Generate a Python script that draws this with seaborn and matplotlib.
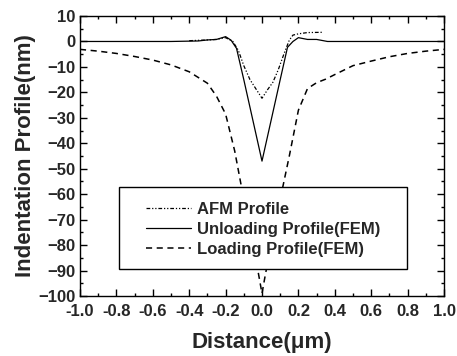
import pandas as pd
import matplotlib
matplotlib.use("Agg")
import matplotlib.pyplot as plt
from matplotlib.patches import Rectangle
from matplotlib.ticker import MultipleLocator, FixedLocator
import seaborn as sns

# ---------- DATA ----------
afm_x = [-0.40, -0.30, -0.25, -0.20, -0.16, -0.13, -0.10, -0.066, -0.03, 0.0,
         0.03, 0.06, 0.09, 0.12, 0.15, 0.17, 0.20, 0.25, 0.33]
afm_y = [0.3, 0.6, 0.8, 1.5, 0.0, -3.5, -9.5, -15.0, -19.0, -22.3,
         -19.0, -16.0, -11.0, -5.0, 0.5, 2.5, 3.0, 3.5, 3.6]

unload_x = [-1.0, -0.5, -0.35, -0.30, -0.25, -0.20, -0.17, -0.14, -0.10, -0.05, 0.0,
            0.05, 0.10, 0.14, 0.17, 0.20, 0.25, 0.30, 0.36, 0.5, 1.0]
unload_y = [0.0, 0.0, 0.2, 0.6, 0.8, 1.9, 0.5, -2.7, -15.0, -31.0, -47.0,
            -31.0, -15.0, -2.3, 0.0, 1.5, 0.8, 0.8, 0.0, 0.0, 0.0]

load_x = [-1.0, -0.9, -0.8, -0.7, -0.6, -0.5, -0.4, -0.3, -0.25, -0.2, -0.15, -0.1,
          -0.05, -0.02, 0.0, 0.02, 0.05, 0.1, 0.15, 0.2, 0.25, 0.3, 0.35, 0.4,
          0.5, 0.6, 0.7, 0.8, 0.9, 1.0]
load_y = [-3.1, -3.8, -4.7, -5.9, -7.3, -9.2, -11.9, -16.4, -21.5, -28.5, -43.0, -62.0,
          -80.0, -91.0, -99.0, -91.0, -80.0, -62.0, -45.0, -27.0, -18.5, -16.2, -14.8, -13.0,
          -9.5, -7.7, -6.0, -4.7, -3.8, -3.1]

labels = ["AFM Profile", "Unloading Profile(FEM)", "Loading Profile(FEM)"]
x_ticks = [-1.0, -0.8, -0.6, -0.4, -0.2, 0.0, 0.2, 0.4, 0.6, 0.8, 1.0]
x_tick_labels = ["-1.0", "-0.8", "-0.6", "-0.4", "-0.2", "0.0", "0.2", "0.4", "0.6", "0.8", "1.0"]
y_ticks = [10, 0, -10, -20, -30, -40, -50, -60, -70, -80, -90, -100]

# ---------- STYLE ----------
sns.set_style("ticks")
plt.rcParams["font.family"] = ["Liberation Sans", "DejaVu Sans"]
plt.rcParams["font.weight"] = "bold"
plt.rcParams["xtick.direction"] = "in"
plt.rcParams["ytick.direction"] = "in"
plt.rcParams["xtick.top"] = True
plt.rcParams["ytick.right"] = True
plt.rcParams["xtick.minor.visible"] = True
plt.rcParams["ytick.minor.visible"] = True

fig = plt.figure(figsize=(4.57, 3.56), dpi=100)
ax = fig.add_axes([0.175, 0.1685, 0.7966, 0.7865])

afm = pd.DataFrame({"x": afm_x, "y": afm_y})
unload = pd.DataFrame({"x": unload_x, "y": unload_y})
load = pd.DataFrame({"x": load_x, "y": load_y})

sns.lineplot(data=afm, x="x", y="y", ax=ax, color="black", lw=0.9,
             sort=False, estimator=None, label=labels[0])
sns.lineplot(data=unload, x="x", y="y", ax=ax, color="black", lw=0.9,
             sort=False, estimator=None, label=labels[1])
sns.lineplot(data=load, x="x", y="y", ax=ax, color="black", lw=1.1,
             sort=False, estimator=None, label=labels[2])

ax.lines[0].set_dashes([3, 1.5, 1, 1.5, 1, 1.5])
ax.lines[2].set_dashes([4, 3])

ax.set_xlim(-1.0, 1.0)
ax.set_ylim(-100, 10)
ax.xaxis.set_major_locator(FixedLocator(x_ticks))
ax.set_xticklabels(x_tick_labels)
ax.yaxis.set_major_locator(FixedLocator(y_ticks))
ax.xaxis.set_minor_locator(MultipleLocator(0.1))
ax.yaxis.set_minor_locator(MultipleLocator(5))
ax.tick_params(which="both", direction="in", top=True, right=True, width=1.0,
               color="black", labelsize=12)
ax.tick_params(which="major", length=5)
ax.tick_params(which="minor", length=2.5)
ax.tick_params(axis="x", which="major", pad=6)
ax.tick_params(axis="y", which="major", pad=3)
for lab in ax.get_xticklabels() + ax.get_yticklabels():
    lab.set_fontweight("bold")
for sp in ax.spines.values():
    sp.set_linewidth(1.0)
    sp.set_color("black")

ax.set_xlabel("Distance(\u03bcm)", fontsize=16, fontweight="bold", labelpad=9)
ax.set_ylabel("Indentation Profile(nm)", fontsize=16, fontweight="bold", labelpad=2)

# ---------- LEGEND ----------
box = Rectangle((0.107, 0.0964), 0.791, 0.293, transform=ax.transAxes,
                facecolor="white", edgecolor="black", lw=1.0, zorder=3)
ax.add_patch(box)
handles, _ = ax.get_legend_handles_labels()
leg = ax.legend(handles, labels, loc="upper left", bbox_to_anchor=(0.145, 0.385),
                frameon=False, fontsize=12, handlelength=2.7, handletextpad=0.35,
                labelspacing=0.3, borderpad=0.3)
leg.set_zorder(5)
for t in leg.get_texts():
    t.set_fontweight("bold")

fig.savefig("out.png", dpi=100)
